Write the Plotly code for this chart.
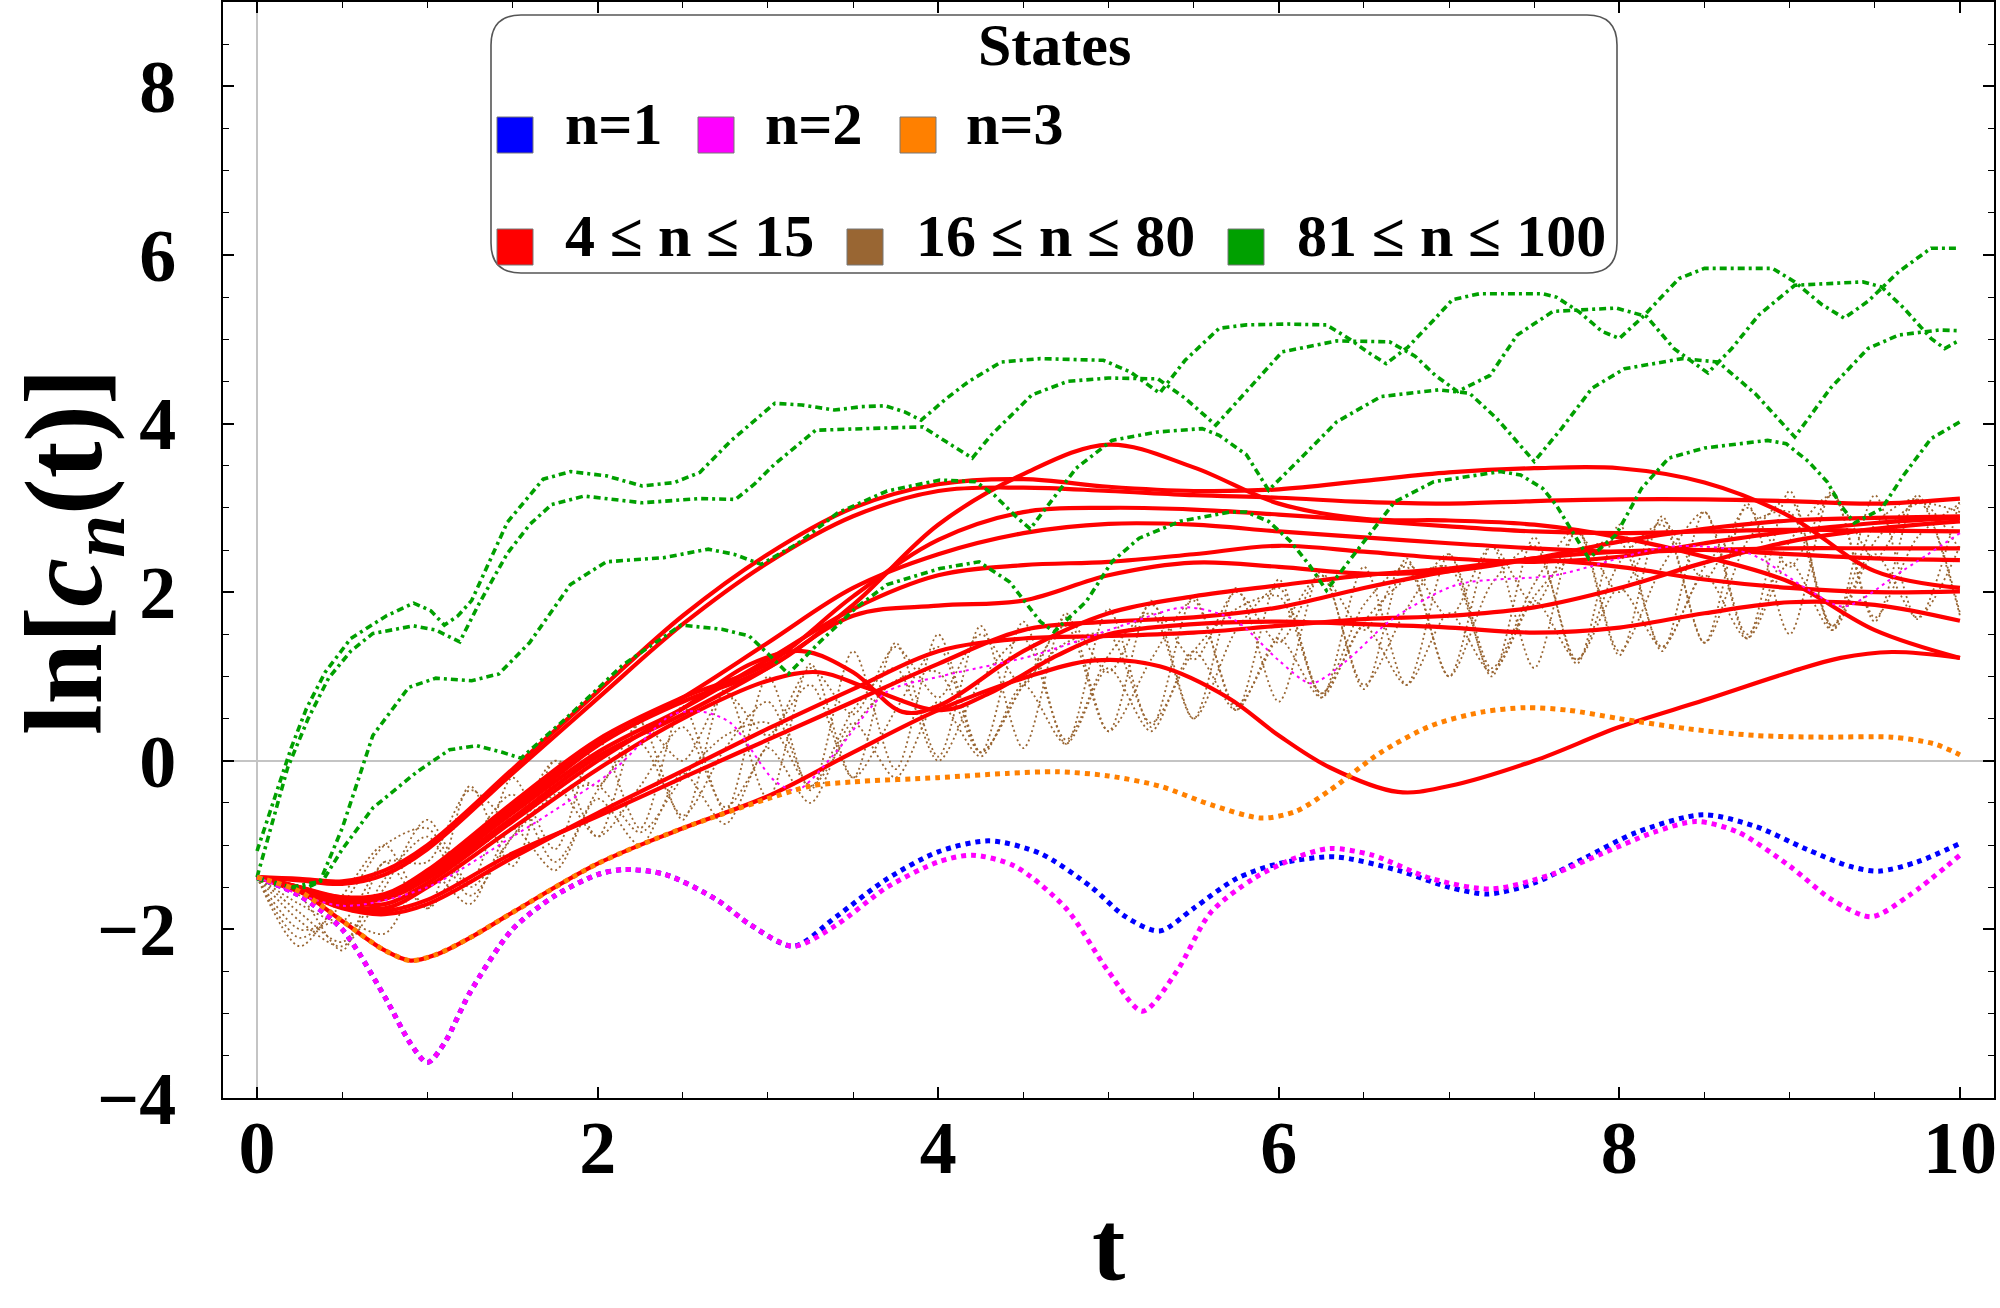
import plotly.graph_objects as go

# ---- data ----------------------------------------------------------------
T_RED = [0, 0.25, 0.5, 0.75, 1, 1.5, 2, 2.5, 3, 3.5, 4, 4.5, 5, 5.5, 6, 6.5, 7, 7.5, 8, 8.5, 9, 9.5, 10]
RED_1 = [-1.38, -1.40, -1.43, -1.30, -1.00, -0.10, 0.82, 1.72, 2.45, 3.00, 3.28, 3.34, 3.25, 3.20, 3.22, 3.32, 3.42, 3.47, 3.47, 3.30, 2.90, 2.25, 2.05]
RED_2 = [-1.38, -1.42, -1.46, -1.35, -1.05, -0.15, 0.74, 1.62, 2.35, 2.90, 3.20, 3.24, 3.20, 3.15, 3.12, 3.07, 3.05, 3.08, 3.10, 3.10, 3.08, 3.05, 3.11]
RED_3 = [-1.38, -1.50, -1.65, -1.62, -1.35, -0.55, 0.20, 0.70, 1.10, 1.85, 2.80, 3.40, 3.75, 3.48, 3.05, 2.87, 2.85, 2.80, 2.65, 2.42, 2.12, 1.55, 1.22]
RED_4 = [-1.38, -1.52, -1.62, -1.58, -1.30, -0.50, 0.25, 0.75, 1.15, 1.95, 2.62, 2.95, 3.00, 2.98, 2.92, 2.85, 2.78, 2.72, 2.70, 2.72, 2.74, 2.73, 2.72]
RED_5 = [-1.38, -1.50, -1.64, -1.62, -1.38, -0.60, 0.18, 0.75, 1.40, 2.05, 2.45, 2.70, 2.81, 2.80, 2.72, 2.65, 2.58, 2.52, 2.48, 2.50, 2.52, 2.52, 2.52]
RED_6 = [-1.38, -1.50, -1.62, -1.60, -1.36, -0.62, 0.10, 0.62, 1.20, 1.80, 2.20, 2.32, 2.36, 2.45, 2.55, 2.48, 2.40, 2.36, 2.42, 2.58, 2.72, 2.82, 2.88]
RED_7 = [-1.38, -1.52, -1.66, -1.64, -1.40, -0.68, 0.05, 0.55, 1.10, 1.72, 1.84, 1.90, 2.20, 2.35, 2.30, 2.22, 2.25, 2.40, 2.60, 2.75, 2.85, 2.88, 2.90]
RED_10 = [-1.38, -1.55, -1.75, -1.82, -1.70, -1.15, -0.62, -0.12, 0.38, 0.85, 1.30, 1.45, 1.48, 1.52, 1.60, 1.68, 1.72, 1.82, 2.05, 2.35, 2.60, 2.75, 2.84]
RED_11 = [-1.38, -1.54, -1.72, -1.78, -1.65, -1.10, -0.66, -0.20, 0.25, 0.70, 1.15, 1.55, 1.65, 1.70, 1.82, 2.05, 2.25, 2.40, 2.48, 2.50, 2.45, 2.40, 2.38]

T_RED_8 = [0, 0.25, 0.5, 0.75, 1, 1.5, 2, 2.5, 2.9, 3.2, 3.5, 3.79, 4.0, 4.5, 5, 5.5, 6, 6.5, 7, 7.5, 8, 8.5, 9, 9.5, 10]
RED_8 = [-1.38, -1.52, -1.66, -1.70, -1.45, -0.72, 0.0, 0.62, 1.15, 1.30, 1.05, 0.58, 0.65, 1.30, 1.75, 1.95, 2.08, 2.20, 2.28, 2.38, 2.30, 2.15, 2.05, 2.00, 2.01]
T_RED_9 = [0, 0.25, 0.5, 0.75, 1, 1.5, 2, 2.5, 3.0, 3.3, 3.6, 4.02, 4.3, 4.7, 5, 5.5, 6, 6.5, 7, 7.5, 8, 8.5, 9, 9.5, 10]
RED_9 = [-1.38, -1.55, -1.70, -1.75, -1.50, -0.80, -0.10, 0.50, 0.95, 1.05, 0.85, 0.60, 0.80, 1.25, 1.50, 1.62, 1.65, 1.62, 1.58, 1.52, 1.58, 1.75, 1.88, 1.85, 1.66]
T_RED_12 = [0, 0.25, 0.5, 0.75, 0.9, 1.05, 1.25, 1.5, 2.0, 2.5, 3.0, 3.5, 4.0, 4.5, 4.92, 5.3, 5.7, 6.0, 6.3, 6.7, 7.0, 7.5, 8.0, 8.5, 9.0, 9.3, 9.6, 10]
RED_12 = [-1.38, -1.55, -1.90, -2.25, -2.37, -2.30, -2.10, -1.80, -1.22, -0.80, -0.42, 0.10, 0.60, 0.98, 1.19, 1.12, 0.75, 0.30, -0.08, -0.37, -0.30, 0.00, 0.40, 0.72, 1.05, 1.22, 1.29, 1.22]

T_ORANGE = [0, 0.25, 0.5, 0.75, 0.9, 1.05, 1.25, 1.5, 2.0, 2.5, 3.0, 3.25, 3.5, 4.0, 4.4, 4.7, 5.0, 5.3, 5.6, 5.9, 6.1, 6.3, 6.6, 6.9, 7.2, 7.45, 7.7, 8.0, 8.4, 8.8, 9.2, 9.6, 9.85, 10]
ORANGE = [-1.38, -1.55, -1.90, -2.25, -2.37, -2.30, -2.10, -1.80, -1.22, -0.80, -0.45, -0.30, -0.25, -0.20, -0.15, -0.13, -0.18, -0.30, -0.52, -0.68, -0.60, -0.35, 0.10, 0.42, 0.58, 0.63, 0.60, 0.50, 0.38, 0.30, 0.28, 0.28, 0.20, 0.07]

T_MAGENTA = [0, 0.25, 0.5, 0.75, 0.9, 1.0, 1.1, 1.25, 1.5, 1.75, 2.0, 2.15, 2.4, 2.7, 2.9, 3.15, 3.4, 3.7, 4.0, 4.2, 4.45, 4.75, 5.0, 5.2, 5.4, 5.6, 5.85, 6.1, 6.3, 6.55, 6.9, 7.25, 7.6, 7.9, 8.2, 8.45, 8.7, 9.0, 9.25, 9.48, 9.7, 10]
MAGENTA = [-1.38, -1.60, -2.00, -2.80, -3.35, -3.58, -3.35, -2.75, -2.00, -1.60, -1.35, -1.29, -1.35, -1.65, -1.95, -2.20, -1.95, -1.50, -1.20, -1.12, -1.25, -1.75, -2.50, -2.97, -2.50, -1.80, -1.40, -1.15, -1.04, -1.12, -1.40, -1.52, -1.35, -1.10, -0.85, -0.72, -0.85, -1.25, -1.65, -1.85, -1.60, -1.12]

T_BLUE = [0, 0.25, 0.5, 0.75, 0.9, 1.0, 1.1, 1.25, 1.5, 1.75, 2.0, 2.15, 2.4, 2.7, 2.9, 3.15, 3.4, 3.7, 4.0, 4.3, 4.6, 4.9, 5.1, 5.3, 5.5, 5.75, 6.0, 6.33, 6.7, 7.0, 7.23, 7.5, 7.8, 8.1, 8.49, 8.8, 9.1, 9.35, 9.52, 9.75, 10]
BLUE = [-1.38, -1.60, -2.00, -2.80, -3.35, -3.58, -3.35, -2.75, -2.00, -1.60, -1.35, -1.29, -1.35, -1.65, -1.95, -2.20, -1.85, -1.40, -1.08, -0.95, -1.10, -1.50, -1.85, -2.02, -1.75, -1.40, -1.22, -1.14, -1.30, -1.50, -1.58, -1.45, -1.15, -0.85, -0.64, -0.78, -1.05, -1.25, -1.31, -1.20, -0.98]

T_MAGENTA_2 = [0, 0.5, 1.0, 1.5, 1.73, 2.1, 2.44, 2.62, 2.78, 3.04, 3.17, 3.39, 3.7, 4.01, 4.56, 5.09, 5.45, 5.74, 6.0, 6.19, 6.4, 6.66, 7.05, 7.62, 8.3, 8.76, 9.1, 9.32, 9.66, 10]
MAGENTA_2 = [-1.38, -1.72, -1.50, -0.90, -0.61, -0.10, 0.55, 0.58, 0.45, -0.24, -0.35, 0.08, 0.82, 1.00, 1.25, 1.61, 1.82, 1.67, 1.19, 0.92, 1.19, 1.67, 2.09, 2.20, 2.54, 2.46, 2.04, 1.83, 2.25, 2.70]

T_GREEN_1 = [0, 0.1, 0.2, 0.29, 0.4, 0.55, 0.76, 0.92, 1.02, 1.1, 1.18, 1.26, 1.47, 1.68, 1.84, 2.05, 2.26, 2.45, 2.6, 2.78, 3.04, 3.2, 3.39, 3.55, 3.69, 3.8, 3.9, 4.05, 4.18, 4.37, 4.6, 4.97, 5.13, 5.3, 5.45, 5.65, 5.81, 6.05, 6.28, 6.41, 6.52, 6.63, 6.76, 6.92, 7.02, 7.18, 7.55, 7.63, 7.76, 7.9, 8.0, 8.13, 8.24, 8.35, 8.5, 8.9, 9.03, 9.19, 9.32, 9.46, 9.64, 9.83, 10]
GREEN_1 = [-1.07, -0.45, 0.15, 0.62, 1.05, 1.45, 1.72, 1.87, 1.78, 1.61, 1.72, 1.90, 2.83, 3.34, 3.43, 3.38, 3.26, 3.30, 3.42, 3.79, 4.24, 4.22, 4.16, 4.20, 4.21, 4.14, 4.04, 4.30, 4.50, 4.73, 4.77, 4.75, 4.61, 4.36, 4.75, 5.13, 5.17, 5.18, 5.17, 5.01, 4.85, 4.71, 4.91, 5.25, 5.47, 5.54, 5.54, 5.50, 5.33, 5.09, 5.01, 5.25, 5.48, 5.72, 5.84, 5.84, 5.68, 5.41, 5.25, 5.45, 5.80, 6.08, 6.08]

T_GREEN_2 = [0, 0.08, 0.18, 0.3, 0.42, 0.55, 0.68, 0.92, 1.05, 1.19, 1.3, 1.47, 1.6, 1.73, 1.92, 2.26, 2.6, 2.81, 2.92, 3.04, 3.28, 3.57, 3.91, 4.05, 4.2, 4.31, 4.55, 4.76, 5.0, 5.29, 5.45, 5.63, 5.81, 6.02, 6.34, 6.65, 6.8, 6.92, 7.05, 7.24, 7.4, 7.61, 7.98, 8.16, 8.32, 8.52, 8.66, 8.82, 9.03, 9.43, 9.54, 9.67, 9.83, 9.91, 10]
GREEN_2 = [-1.38, -0.80, -0.08, 0.50, 0.98, 1.30, 1.51, 1.60, 1.55, 1.41, 1.85, 2.46, 2.80, 3.04, 3.14, 3.06, 3.11, 3.10, 3.28, 3.52, 3.92, 3.94, 3.96, 3.78, 3.59, 3.86, 4.34, 4.50, 4.54, 4.53, 4.30, 3.98, 4.38, 4.85, 4.98, 4.97, 4.80, 4.57, 4.38, 4.57, 5.05, 5.33, 5.37, 5.27, 4.89, 4.60, 4.89, 5.29, 5.64, 5.68, 5.62, 5.37, 5.01, 4.89, 4.99]

T_GREEN_3 = [0, 0.2, 0.37, 0.5, 0.68, 0.89, 1.05, 1.26, 1.42, 1.6, 1.84, 2.05, 2.39, 2.65, 2.8, 2.96, 3.17, 3.41, 3.7, 4.01, 4.22, 4.33, 4.46, 4.54, 4.63, 4.81, 5.02, 5.29, 5.55, 5.65, 5.81, 5.94, 6.13, 6.34, 6.6, 6.94, 7.12, 7.28, 7.5, 7.66, 7.84, 8.03, 8.37, 8.58, 8.8, 9.03, 9.24, 9.46, 9.64, 9.88, 10]
GREEN_3 = [-1.38, -1.50, -1.43, -0.80, 0.30, 0.87, 0.98, 0.95, 1.03, 1.40, 2.09, 2.36, 2.41, 2.51, 2.45, 2.33, 2.57, 2.94, 3.20, 3.33, 3.31, 3.15, 2.89, 2.75, 2.99, 3.47, 3.80, 3.90, 3.94, 3.86, 3.63, 3.21, 3.59, 4.02, 4.32, 4.40, 4.36, 4.06, 3.55, 3.94, 4.42, 4.65, 4.77, 4.73, 4.35, 3.84, 4.42, 4.89, 5.05, 5.11, 5.10]

T_GREEN_4 = [0, 0.16, 0.3, 0.39, 0.5, 0.68, 0.94, 1.13, 1.29, 1.44, 1.55, 1.7, 1.84, 2.15, 2.49, 2.73, 2.89, 3.0, 3.12, 3.3, 3.52, 3.7, 4.01, 4.24, 4.42, 4.6, 4.68, 4.87, 5.02, 5.18, 5.42, 5.71, 5.81, 5.94, 6.07, 6.18, 6.28, 6.47, 6.68, 6.91, 7.3, 7.42, 7.55, 7.63, 7.71, 7.82, 7.98, 8.13, 8.29, 8.5, 8.87, 8.98, 9.11, 9.22, 9.3, 9.38, 9.54, 9.67, 9.83, 10]
GREEN_4 = [-1.40, -1.51, -1.50, -1.41, -1.05, -0.56, -0.13, 0.13, 0.18, 0.10, 0.03, 0.30, 0.55, 1.14, 1.61, 1.56, 1.48, 1.27, 1.03, 1.40, 1.82, 2.09, 2.28, 2.36, 2.12, 1.65, 1.53, 1.89, 2.36, 2.64, 2.84, 2.95, 2.95, 2.84, 2.60, 2.32, 2.02, 2.52, 3.07, 3.31, 3.43, 3.39, 3.23, 3.03, 2.76, 2.40, 2.68, 3.23, 3.59, 3.71, 3.80, 3.76, 3.55, 3.31, 3.03, 2.82, 2.99, 3.39, 3.82, 4.02]

T_BROWN = [0, 0.25, 0.5, 0.75, 1, 1.25, 1.5, 1.75, 2, 2.25, 2.5, 2.75, 3, 3.25, 3.5, 3.75, 4, 4.25, 4.5, 4.75, 5,
           5.25, 5.5, 5.75, 6, 6.25, 6.5, 6.75, 7, 7.25, 7.5, 7.75, 8, 8.25, 8.5, 8.75, 9, 9.25, 9.5, 9.75, 10]
BROWN_1 = [-1.38, -1.90, -2.20, -1.50, -0.70, -1.45, -0.20, -1.05, 0.25, -0.80, 0.65, -0.60, 1.00, -0.35, 1.30, -0.10, 1.50, 0.10, 1.65, 0.20, 1.80, 0.40, 1.95, 0.60, 2.15, 0.75, 2.30, 0.90, 2.45, 1.00, 2.65, 1.15, 2.80, 1.30, 2.95, 1.45, 3.20, 1.55, 3.15, 1.68, 3.10]
BROWN_2 = [-1.38, -1.60, -2.25, -1.20, -1.75, -0.30, -1.25, 0.00, -0.90, 0.45, -0.70, 0.85, -0.45, 1.15, -0.20, 1.40, 0.05, 1.60, 0.15, 1.75, 0.35, 1.90, 0.50, 2.05, 0.70, 2.25, 0.85, 2.40, 1.00, 2.55, 1.10, 2.75, 1.25, 2.90, 1.40, 3.05, 1.50, 3.20, 1.65, 3.15, 1.72]
BROWN_3 = [-1.38, -1.70, -1.90, -1.20, -1.20, -0.35, -0.70, 0.00, -0.30, 0.45, 0.00, 0.80, 0.30, 1.10, 0.55, 1.35, 0.75, 1.50, 0.90, 1.70, 1.05, 1.85, 1.20, 2.00, 1.40, 2.20, 1.55, 2.35, 1.70, 2.55, 1.85, 2.70, 2.00, 2.85, 2.15, 3.00, 2.30, 3.15, 2.40, 3.10, 2.50]
BROWN_4 = [-1.38, -2.00, -1.90, -2.05, -1.30, -1.70, -0.80, -1.30, -0.45, -1.00, -0.15, -0.75, 0.15, -0.50, 0.45, -0.20, 0.70, 0.05, 0.90, 0.20, 1.10, 0.35, 1.30, 0.60, 1.45, 0.75, 1.60, 0.90, 1.75, 1.05, 1.90, 1.20, 2.05, 1.35, 2.20, 1.45, 2.35, 1.55, 2.45, 1.70, 2.55]
BROWN_5 = [-1.38, -1.80, -2.15, -1.40, -0.90, -1.60, -0.90, -0.30, -0.90, -0.30, 0.40, -0.55, 0.20, 0.90, -0.20, 0.60, 1.35, 0.10, 0.90, 1.60, 0.35, 1.20, 1.90, 0.65, 1.50, 2.20, 0.90, 1.80, 2.45, 1.10, 2.10, 2.75, 1.30, 2.30, 2.95, 1.50, 2.60, 3.15, 1.70, 2.65, 3.05]
BROWN_6 = [-1.38, -2.10, -1.70, -1.00, -0.80, -1.50, -0.90, -0.40, -0.30, -0.85, -0.20, 0.30, 0.45, -0.30, 0.40, 0.95, 1.05, 0.10, 0.90, 1.40, 1.50, 0.45, 1.30, 1.80, 1.95, 0.80, 1.65, 2.15, 2.30, 1.05, 1.95, 2.45, 2.60, 1.35, 2.30, 2.80, 2.95, 1.60, 2.60, 3.05, 2.95]
BROWN_7 = [-1.38, -2.20, -1.60, -1.00, -1.75, -1.00, -0.40, -1.20, -0.35, 0.20, -0.65, 0.15, 0.70, -0.30, 0.60, 1.10, 0.00, 0.95, 1.45, 0.25, 1.25, 1.75, 0.50, 1.55, 2.05, 0.80, 1.85, 2.30, 1.00, 2.10, 2.55, 1.20, 2.35, 2.80, 1.40, 2.60, 3.10, 1.60, 2.80, 3.10, 1.75]

LEGEND_ROW_1 = ["n=1", "n=2", "n=3"]
LEGEND_ROW_2 = ["4 ≤ n ≤ 15", "16 ≤ n ≤ 80", "81 ≤ n ≤ 100"]

# ---- styling ---------------------------------------------------------------
FONT = "Liberation Serif, Times New Roman, serif"
C_BLUE, C_MAGENTA, C_ORANGE = "#0000FF", "#FF00FF", "#FF8000"
C_RED, C_BROWN, C_GREEN = "#FF0000", "#996633", "#00A000"

# plot box in page pixels
PL, PR, PT, PB = 223, 1994, 2, 1098


def px(x):
    return (x - PL) / (PR - PL)


def py(y):
    return (PB - y) / (PB - PT)


fig = go.Figure()

for b in [BROWN_1, BROWN_2, BROWN_3, BROWN_4, BROWN_5, BROWN_6, BROWN_7]:
    fig.add_trace(go.Scatter(x=T_BROWN, y=b, mode="lines",
                             line=dict(color=C_BROWN, width=1.8, dash="2px,3px", shape="spline", smoothing=0.8)))

reds = [(T_RED, RED_1), (T_RED, RED_2), (T_RED, RED_3), (T_RED, RED_4), (T_RED, RED_5), (T_RED, RED_6),
        (T_RED, RED_7), (T_RED_8, RED_8), (T_RED_9, RED_9), (T_RED, RED_10), (T_RED, RED_11), (T_RED_12, RED_12)]
for t, r in reds:
    fig.add_trace(go.Scatter(x=t, y=r, mode="lines",
                             line=dict(color=C_RED, width=4.2, shape="spline", smoothing=1.0)))

for t, g in [(T_GREEN_1, GREEN_1), (T_GREEN_2, GREEN_2), (T_GREEN_3, GREEN_3), (T_GREEN_4, GREEN_4)]:
    fig.add_trace(go.Scatter(x=t, y=g, mode="lines",
                             line=dict(color=C_GREEN, width=3.6, dash="7px,4px,3px,4px")))

fig.add_trace(go.Scatter(x=T_MAGENTA_2, y=MAGENTA_2, mode="lines",
                         line=dict(color=C_MAGENTA, width=2, dash="3px,4px", shape="spline", smoothing=0.8)))
fig.add_trace(go.Scatter(x=T_BLUE, y=BLUE, mode="lines",
                         line=dict(color=C_BLUE, width=5, dash="5px,5px", shape="spline", smoothing=0.8)))
fig.add_trace(go.Scatter(x=T_MAGENTA, y=MAGENTA, mode="lines",
                         line=dict(color=C_MAGENTA, width=5, dash="5px,5px", shape="spline", smoothing=0.8)))
fig.add_trace(go.Scatter(x=T_ORANGE, y=ORANGE, mode="lines",
                         line=dict(color=C_ORANGE, width=5, dash="5px,5px", shape="spline", smoothing=0.8)))

axis_common = dict(showgrid=False, showline=True, linecolor="black", linewidth=2, mirror="ticks",
                   ticks="inside", ticklen=11, tickwidth=1.6, tickcolor="black", automargin=False,
                   zeroline=True, zerolinecolor="#C4C4C4", zerolinewidth=1.5, ticklabeloverflow="allow",
                   tickfont=dict(family=FONT, size=74, color="black", weight="bold"))

fig.update_layout(
    width=2000, height=1308,
    margin=dict(l=PL, r=2000 - PR, t=PT, b=1308 - PB, autoexpand=False),
    paper_bgcolor="white", plot_bgcolor="white",
    showlegend=False,
    xaxis=dict(range=[-0.2, 10.2], tick0=0, dtick=2, ticklabelstandoff=-16,
               minor=dict(dtick=0.5, ticks="inside", ticklen=6, tickcolor="black", tickwidth=1.2),
               **axis_common),
    yaxis=dict(range=[-4, 9], tick0=0, dtick=2, ticklabelstandoff=30,
               minor=dict(dtick=0.5, ticks="inside", ticklen=6, tickcolor="black", tickwidth=1.2),
               **axis_common),
)

# axis titles
fig.add_annotation(x=px(72), y=py(552), xref="paper", yref="paper", showarrow=False, textangle=-90,
                   xanchor="center", yanchor="middle",
                   text="ln[<i>c</i><sub><i>n</i></sub>(t)]",
                   font=dict(family=FONT, size=110, color="black", weight="bold"))
fig.add_annotation(x=px(1108), y=py(1304), xref="paper", yref="paper", showarrow=False,
                   xanchor="center", yanchor="bottom",
                   text="t", font=dict(family=FONT, size=100, color="black", weight="bold"))

# legend box (rounded) drawn by hand
x0, x1, y0, y1, r = 491, 1617, 15, 273, 30
rx, ry = r / (PR - PL), r / (PB - PT)
X0, X1, Y0, Y1 = px(x0), px(x1), py(y0), py(y1)
path = (f"M {X0 + rx},{Y0} L {X1 - rx},{Y0} Q {X1},{Y0} {X1},{Y0 - ry} "
        f"L {X1},{Y1 + ry} Q {X1},{Y1} {X1 - rx},{Y1} "
        f"L {X0 + rx},{Y1} Q {X0},{Y1} {X0},{Y1 + ry} "
        f"L {X0},{Y0 - ry} Q {X0},{Y0} {X0 + rx},{Y0} Z")
fig.add_shape(type="path", path=path, xref="paper", yref="paper",
              fillcolor="white", line=dict(color="#555555", width=1.6), layer="above")

fig.add_annotation(x=px(1054), y=py(45), xref="paper", yref="paper", showarrow=False,
                   xanchor="center", yanchor="middle",
                   text="States", font=dict(family=FONT, size=60, color="black", weight="bold"))

rows = [
    (135, 124, LEGEND_ROW_1, [C_BLUE, C_MAGENTA, C_ORANGE], [497, 698, 900], [563, 763, 964]),
    (247, 236, LEGEND_ROW_2, [C_RED, C_BROWN, C_GREEN], [497, 847, 1228], [563, 914, 1295]),
]
for sw_y, tx_y, labels, colors, sw_x, tx_x in rows:
    for lab, col, sx, tx in zip(labels, colors, sw_x, tx_x):
        fig.add_shape(type="rect", xref="paper", yref="paper",
                      x0=px(sx), x1=px(sx + 36), y0=py(sw_y - 18), y1=py(sw_y + 18),
                      fillcolor=col, line=dict(color="#777777", width=1), layer="above")
        fig.add_annotation(x=px(tx), y=py(tx_y), xref="paper", yref="paper", showarrow=False,
                           xanchor="left", yanchor="middle", text=lab,
                           font=dict(family=FONT, size=60, color="black", weight="bold"))

# the page's default 8px body margin would push the figure off the window
fig.write_html("out.html", config={"displayModeBar": False},
               post_script="document.body.style.margin='0';document.body.style.overflow='hidden';")
